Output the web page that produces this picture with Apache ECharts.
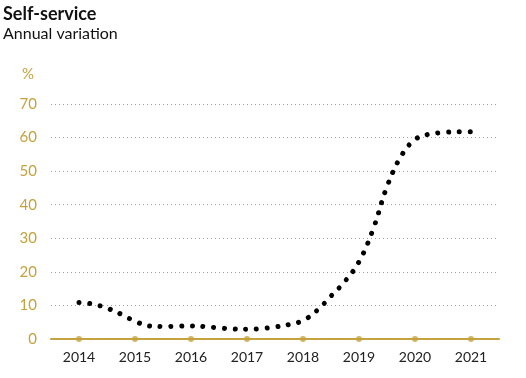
<!DOCTYPE html>
<html>
<head>
<meta charset="utf-8">
<script src="https://cdn.jsdelivr.net/npm/echarts@6/dist/echarts.min.js"></script>
<style>html,body{margin:0;padding:0;background:#fff}#c{width:526px;height:378px}</style>
</head>
<body>
<div id="c"></div>
<script>
const yearTicks = [2014, 2015, 2016, 2017, 2018, 2019, 2020, 2021];
const dates = [2014.0, 2014.25, 2014.5, 2014.75, 2015.0, 2015.25, 2015.5, 2015.75,
  2016.0, 2016.25, 2016.5, 2016.75, 2017.0, 2017.25, 2017.5, 2017.75,
  2018.0, 2018.25, 2018.5, 2018.75, 2019.0, 2019.25, 2019.5, 2019.75,
  2020.0, 2020.25, 2020.5, 2020.75, 2021.0];
const values = [10.9, 10.4, 9.2, 7.4, 5.3, 3.9, 3.7, 3.8,
  3.9, 3.7, 3.3, 3.0, 2.9, 3.1, 3.6, 4.3,
  5.5, 8.5, 12.8, 17.2, 23.0, 32.6, 45.4, 54.4,
  59.4, 61.0, 61.5, 61.7, 61.7];
const yTicks = [0, 10, 20, 30, 40, 50, 60, 70];

const GOLD = '#C4A23E';
const chart = echarts.init(document.getElementById('c'), null, {renderer: 'canvas'});
chart.setOption({
  animation: false,
  backgroundColor: '#fff',
  title: [
    {text: 'Self-service', left: 3, top: 5, padding: 0, textStyle: {fontFamily: 'Lato', fontWeight: 'bold', fontSize: 18, color: '#111'}},
    {text: 'Annual variation', left: 3, top: 26, padding: 0, textStyle: {fontFamily: 'Lato', fontWeight: 'normal', fontSize: 16, color: '#111'}}
  ],
  grid: {left: 51, right: 27, top: 104, bottom: 39},
  xAxis: {
    type: 'value', min: 2013.5, max: 2021.5, interval: 0.5,
    axisLine: {show: true, lineStyle: {color: GOLD, width: 2}},
    axisTick: {show: false},
    splitLine: {show: false},
    axisLabel: {
      margin: 11, fontFamily: 'Lato', fontSize: 14, color: '#222',
      formatter: v => (Number.isInteger(v) && yearTicks.includes(v)) ? String(v) : ''
    }
  },
  yAxis: {
    type: 'value', min: yTicks[0], max: yTicks[yTicks.length - 1], interval: 10,
    name: '%', nameLocation: 'end', nameGap: 22,
    nameTextStyle: {fontFamily: 'Lato', fontSize: 15, color: GOLD, align: 'right', padding: [0, 17, 0, 0]},
    axisLine: {show: false}, axisTick: {show: false},
    axisLabel: {margin: 14, fontFamily: 'Lato', fontSize: 15, color: GOLD},
    splitLine: {show: true, lineStyle: {color: GOLD, width: 1, type: [1, 3]}}
  },
  series: [
    {
      type: 'line', smooth: 0.4, showSymbol: false, symbol: 'none',
      data: dates.map((d, i) => [d, values[i]]),
      lineStyle: {color: '#000', width: 5, type: [0.01, 10.7], cap: 'round'},
      z: 3
    },
    {
      type: 'scatter', symbol: 'circle', symbolSize: 6,
      data: yearTicks.map(y => [y, 0]),
      itemStyle: {color: GOLD},
      z: 4
    }
  ]
});
</script>
</body>
</html>
